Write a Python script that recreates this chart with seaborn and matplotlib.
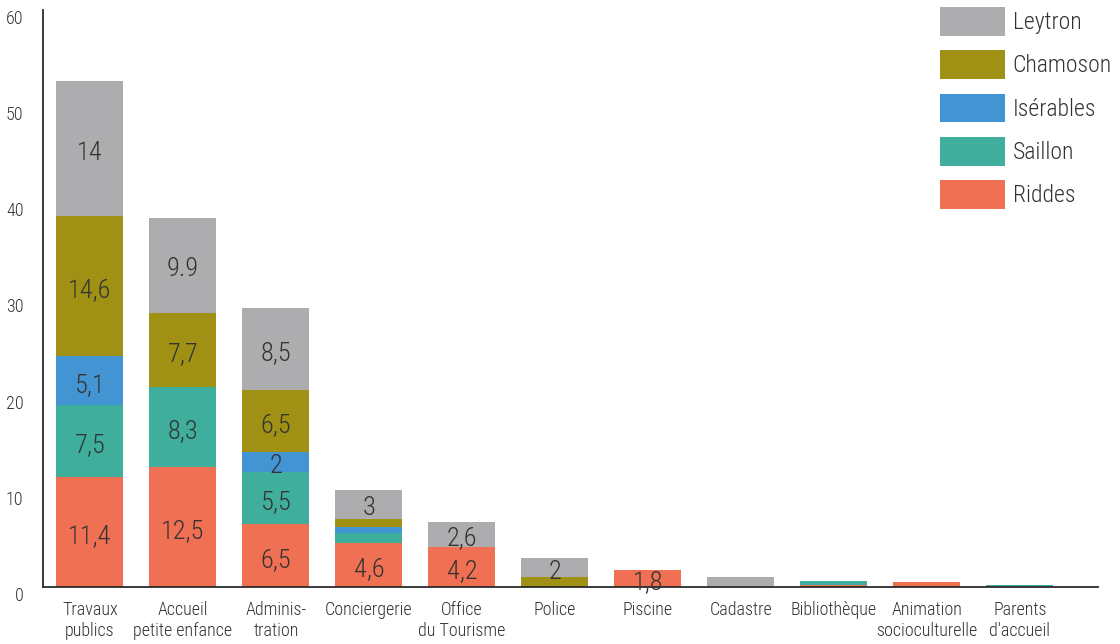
import matplotlib
matplotlib.use("Agg")
import matplotlib.pyplot as plt
from matplotlib import font_manager
from matplotlib.patches import Patch
import numpy as np
import pandas as pd
import seaborn as sns

categories = ["Travaux\npublics", "Accueil\npetite enfance", "Adminis-\ntration",
              "Conciergerie", "Office\ndu Tourisme", "Police", "Piscine",
              "Cadastre", "Bibliothèque", "Animation\nsocioculturelle",
              "Parents\nd'accueil"]

# values per commune, bottom to top of each stack
riddes    = [11.4, 12.5, 6.5, 4.6, 4.2, 0.0, 1.8, 0.0, 0.25, 0.55, 0.0]
saillon   = [7.5, 8.3, 5.5, 1.0, 0.0, 0.0, 0.0, 0.0, 0.4, 0.0, 0.25]
iserables = [5.1, 0.0, 2.0, 0.6, 0.0, 0.0, 0.0, 0.0, 0.0, 0.0, 0.0]
chamoson  = [14.6, 7.7, 6.5, 0.9, 0.0, 1.0, 0.0, 0.0, 0.0, 0.0, 0.0]
leytron   = [14.0, 9.9, 8.5, 3.0, 2.6, 2.0, 0.0, 1.0, 0.0, 0.0, 0.0]

# printed labels (None = no label)
riddes_lbl    = ["11,4", "12,5", "6,5", "4,6", "4,2", None, "1,8", None, None, None, None]
saillon_lbl   = ["7,5", "8,3", "5,5", None, None, None, None, None, None, None, None]
iserables_lbl = ["5,1", None, "2", None, None, None, None, None, None, None, None]
chamoson_lbl  = ["14,6", "7,7", "6,5", None, None, None, None, None, None, None, None]
leytron_lbl   = ["14", "9.9", "8,5", "3", "2,6", "2", None, None, None, None, None]

series = ["Riddes", "Saillon", "Isérables", "Chamoson", "Leytron"]
values = [riddes, saillon, iserables, chamoson, leytron]
labels = [riddes_lbl, saillon_lbl, iserables_lbl, chamoson_lbl, leytron_lbl]
colors = {"Riddes": "#F07053", "Saillon": "#3FAE9C", "Isérables": "#4394D3",
          "Chamoson": "#A09114", "Leytron": "#ADADB0"}

sns.set_theme(style="white")
installed = {f.name for f in font_manager.fontManager.ttflist}
fam = [f for f in ["Roboto Condensed", "Liberation Sans Narrow", "DejaVu Sans Condensed"] if f in installed]
plt.rcParams["font.family"] = fam + ["DejaVu Sans"]
plt.rcParams["font.weight"] = "light"
text_col = "#333333"

fig = plt.figure(figsize=(11.2, 6.44), dpi=100)
ax = fig.add_axes([43 / 1120, 57 / 644, (1098 - 43) / 1120, (587 - 10) / 644])

df = pd.DataFrame({s: v for s, v in zip(series, values)})
df["cat"] = range(len(categories))
cum = df[series].cumsum(axis=1)

# draw cumulative totals from the top layer down so each layer shows its own band
for s in reversed(series):
    sns.barplot(x=df["cat"], y=cum[s], color=colors[s], width=0.72,
                saturation=1, ax=ax, native_scale=True, edgecolor="none",
                linewidth=0)

for si, s in enumerate(series):
    for i, lab in enumerate(labels[si]):
        if lab is None:
            continue
        top = cum[s].iloc[i]
        mid = top - values[si][i] / 2
        ax.annotate(lab, (i, mid), xytext=(0, -3), textcoords="offset points",
                    ha="center", va="center", fontsize=19, color=text_col,
                    fontweight="light")

ax.set_xlim(-0.505, 10.84)
ax.set_ylim(0, 60)
ax.set_xticks(range(len(categories)))
ax.set_xticklabels(categories, fontsize=13, color=text_col, linespacing=1.2,
                   fontweight="light")
ax.set_yticks(range(0, 61, 10))
ax.set_yticklabels([str(v) for v in range(0, 61, 10)], fontsize=13,
                   color=text_col, va="top", fontweight="light")
ax.tick_params(axis="x", length=0, pad=10)
ax.tick_params(axis="y", length=0, pad=14)
ax.set_xlabel("")
ax.set_ylabel("")
for side in ["top", "right"]:
    ax.spines[side].set_visible(False)
for side in ["left", "bottom"]:
    ax.spines[side].set_color("#2b2b2b")
    ax.spines[side].set_linewidth(1.3)

handles = [Patch(facecolor=colors[s], edgecolor="none", label=s) for s in reversed(series)]
leg = fig.legend(handles=handles, loc="upper left",
                 bbox_to_anchor=(940 / 1120, 1 - 7 / 644),
                 frameon=False, prop={"size": 17, "weight": "light"},
                 handlelength=2.75, handleheight=1.49,
                 handletextpad=0.33, labelspacing=0.62, borderpad=0.0,
                 borderaxespad=0.0, labelcolor=text_col)

fig.savefig("out.png", dpi=100)
